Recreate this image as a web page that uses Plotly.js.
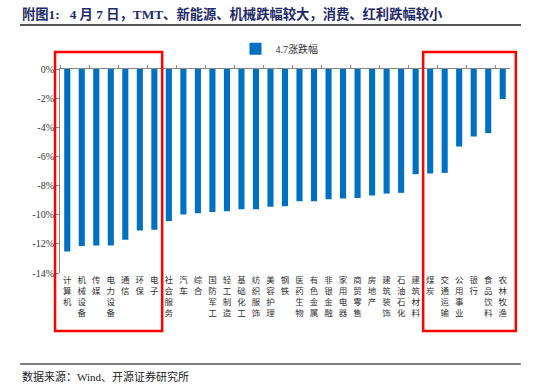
<!DOCTYPE html>
<html>
<head>
<meta charset="utf-8">
<script src="https://cdn.plot.ly/plotly-3.0.1.min.js"></script>
<style>
html,body{margin:0;padding:0;background:#fff;}
#wrap{position:relative;width:550px;height:390px;}
#chart{width:550px;height:390px;}
#rule{position:absolute;left:20px;top:24px;width:501px;height:2px;background:#555;z-index:10;pointer-events:none;}
</style>
</head>
<body>
<div id="wrap"><div id="chart"></div><div id="rule"></div></div>
<script>
const categories = ["计算机","机械设备","传媒","电力设备","通信","环保","电子","社会服务","汽车","综合","国防军工","轻工制造","基础化工","纺织服饰","美容护理","钢铁","医药生物","有色金属","非银金融","家用电器","商贸零售","房地产","建筑装饰","石油石化","建筑材料","煤炭","交通运输","公用事业","银行","食品饮料","农林牧渔"];
const changes = [-12.53,-12.14,-12.12,-12.12,-11.71,-11.09,-11.04,-10.43,-9.99,-9.90,-9.81,-9.76,-9.62,-9.62,-9.46,-9.42,-9.07,-9.07,-8.94,-8.89,-8.85,-8.68,-8.55,-8.50,-7.22,-7.17,-7.13,-5.32,-4.63,-4.40,-2.06];
const seriesName = "4.7涨跌幅";
const yTicks = [0,-2,-4,-6,-8,-10,-12,-14];

const tickText = categories.map(c => c.split("").join("<br>"));
const serif = "Liberation Serif, Noto Sans CJK SC, serif";
const catRange = [-0.5, categories.length - 0.5];

const traces = [
  {type:"bar", x:categories, y:changes, name:seriesName, marker:{color:"#0070C0"}, xaxis:"x", yaxis:"y"},
  {type:"scatter", mode:"none", x:categories, y:categories.map(()=>0), xaxis:"x2", yaxis:"y", showlegend:false, hoverinfo:"skip"}
];

const layout = {
  width:550, height:390,
  margin:{l:60, r:40, t:69, b:117, autoexpand:false},
  paper_bgcolor:"#fff", plot_bgcolor:"#fff",
  bargap:0.58,
  font:{family:serif, size:10, color:"#333"},
  showlegend:true,
  legend:{orientation:"h", x:0.39, y:1.17, xanchor:"left", yanchor:"top", font:{family:serif, size:10, color:"#333"}, bgcolor:"rgba(0,0,0,0)"},
  xaxis:{type:"category", categoryarray:categories, range:catRange, tickvals:categories, ticktext:tickText,
         ticks:"", showline:false, showgrid:false, tickangle:0, tickfont:{family:serif, size:8.5, color:"#333"}, fixedrange:true},
  xaxis2:{type:"category", categoryarray:categories, range:catRange, overlaying:"x", side:"top", anchor:"y",
          showline:true, linecolor:"#888", linewidth:1, ticks:"outside", ticklen:3, tickcolor:"#888", tickson:"boundaries",
          showticklabels:false, showgrid:false},
  yaxis:{range:[-14,0], tickvals:yTicks, ticktext:yTicks.map(v=>v+"%"), ticks:"outside", ticklen:3, tickcolor:"#888",
         showline:true, linecolor:"#888", linewidth:1, showgrid:false, zeroline:false,
         tickfont:{family:serif, size:10, color:"#333"}},
  shapes:[
    {type:"rect", xref:"paper", yref:"paper", x0:-0.011, x1:0.227, y0:-0.284, y1:1.083, line:{color:"#FF0000", width:2.5}},
    {type:"rect", xref:"paper", yref:"paper", x0:0.807, x1:1.013, y0:-0.284, y1:1.083, line:{color:"#FF0000", width:2.5}},
    {type:"line", xref:"paper", yref:"paper", x0:-0.089, x1:1.024, y0:-0.446, y1:-0.446, line:{color:"#555", width:1.5}},
    {type:"line", xref:"paper", yref:"paper", x0:-0.089, x1:1.024, y0:1.214, y1:1.214, line:{color:"#555", width:1.5}}
  ],
  annotations:[
    {text:"<b>附图1:   4 月 7 日，TMT、新能源、机械跌幅较大，消费、红利跌幅较小</b>", xref:"paper", yref:"paper",
     x:-0.089, y:1.27, xanchor:"left", yanchor:"middle", showarrow:false,
     font:{family:serif, size:13.3, color:"#1F2A6B"}},
    {text:"数据来源：Wind、开源证券研究所", xref:"paper", yref:"paper", x:-0.089, y:-0.505, xanchor:"left", yanchor:"middle",
     showarrow:false, font:{family:serif, size:11, color:"#222"}}
  ]
};

Plotly.newPlot("chart", traces, layout, {displayModeBar:false, staticPlot:true});
</script>
</body>
</html>
